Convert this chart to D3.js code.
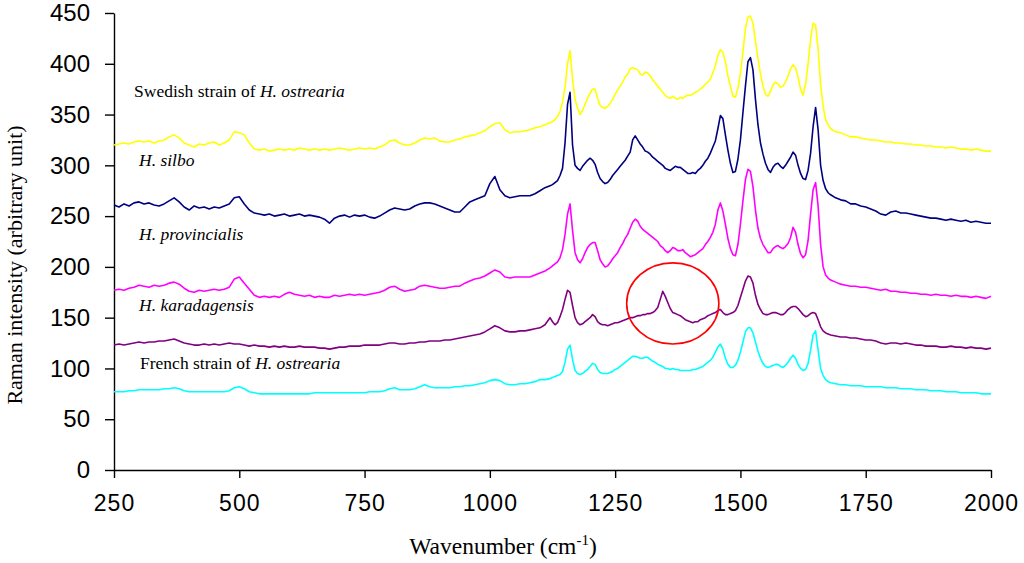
<!DOCTYPE html>
<meta charset="utf-8">
<script src="https://d3js.org/d3.v7.min.js"></script>
<style>
  body { margin: 0; background: #fff; }
  .axis text { font-family: "Liberation Sans", Arial, sans-serif; fill: #000; }
  .axis path, .axis line { stroke: #000; stroke-width: 1.4; }
  .serif { font-family: "Liberation Serif", "Times New Roman", serif; fill: #000; }
</style>
<body>
<div id="my_dataviz"></div>
<script>
// wavenumber grid (cm-1): 10 steps on the flat ends, 5 steps through the band region
var wavenumber = [
  250,260,270,280,290,300,310,320,330,340,
  350,360,370,380,390,400,410,420,430,440,
  450,460,470,480,490,500,510,520,530,540,
  550,560,570,580,590,600,610,620,630,640,
  650,660,670,680,690,700,710,720,730,740,
  750,760,770,780,790,800,810,820,830,840,
  850,860,870,880,890,900,910,920,930,940,
  950,960,970,980,990,1000,1010,1020,1030,1040,
  1050,1060,1070,1080,1090,1100,1110,1120,
  1125,1130,1135,1140,1145,1150,1155,1160,1165,1170,
  1175,1180,1185,1190,1195,1200,1205,1210,1215,1220,
  1225,1230,1235,1240,1245,1250,1255,1260,1265,1270,
  1275,1280,1285,1290,1295,1300,1305,1310,1315,1320,
  1325,1330,1335,1340,1345,1350,1355,1360,1365,1370,
  1375,1380,1385,1390,1395,1400,1405,1410,1415,1420,
  1425,1430,1435,1440,1445,1450,1455,1460,1465,1470,
  1475,1480,1485,1490,1495,1500,1505,1510,1515,1520,
  1525,1530,1535,1540,1545,1550,1555,1560,1565,1570,
  1575,1580,1585,1590,1595,1600,1605,1610,1615,1620,
  1625,1630,1635,1640,1645,1650,1655,1660,1665,1670,
  1675,1680,
  1690,1700,1710,1720,1730,1740,1750,1760,1770,1780,
  1790,1800,1810,1820,1830,1840,1850,1860,1870,1880,
  1890,1900,1910,1920,1930,1940,1950,1960,1970,1980,
  1990,2000
];

var swedish = [
  320,321,322,321,323,324,323,324,322,324,
  325,328,330,327,322,320,318,321,320,322,
  323,320,322,325,333,332,330,322,316,315,
  316,314,315,316,315,316,315,317,316,315,
  316,315,316,315,316,317,316,315,316,317,
  316,317,316,318,320,324,325,322,320,320,
  322,325,327,326,327,324,323,323,325,326,
  328,329,330,332,334,338,341,342,335,332,
  333,333,334,335,337,338,340,342,
  343,345,348,353,362,377,400,413,385,365,
  356,350,354,360,366,371,375,375,366,359,
  357,356,358,361,365,370,374,378,382,387,
  390,395,396,395,394,390,389,392,391,388,
  384,381,378,375,372,369,367,366,368,366,
  365,367,366,368,369,369,370,372,373,375,
  377,380,382,385,391,398,408,414,411,402,
  388,378,368,367,376,390,412,435,446,447,
  440,422,405,390,378,370,368,373,379,382,
  380,377,378,382,388,395,399,396,387,375,
  369,380,400,424,440,438,415,380,358,345,
  340,336,
  333,332,330,328,328,327,326,325,325,324,
  323,323,322,322,321,321,320,320,319,319,
  318,318,317,318,317,316,316,315,316,315,
  314,314
];

var silbo = [
  261,259,262,260,263,264,262,263,261,260,
  262,265,268,264,259,256,260,258,259,257,
  259,258,260,262,268,269,262,256,253,252,
  251,252,250,251,252,250,251,252,250,251,
  250,249,247,243,248,250,251,249,251,250,
  251,249,248,250,253,256,258,257,256,257,
  260,262,263,263,262,260,258,256,254,254,
  259,264,266,268,270,282,289,276,270,268,
  269,270,270,270,272,275,278,280,
  281,283,285,290,297,322,360,372,320,300,
  297,295,299,302,305,307,305,301,293,287,
  284,282,283,286,290,293,296,299,302,305,
  309,313,325,329,325,321,318,314,313,311,
  308,306,304,302,300,297,296,295,297,299,
  298,298,296,294,292,292,293,292,295,297,
  300,304,307,312,318,324,336,349,346,330,
  315,302,293,294,306,325,352,378,402,406,
  394,365,340,322,311,302,296,293,298,301,
  302,299,297,300,304,308,313,310,300,292,
  287,286,295,312,338,357,335,300,285,277,
  273,271,
  268,266,265,262,262,260,259,257,255,252,
  251,254,255,253,253,252,251,250,249,248,
  248,247,246,247,246,245,246,244,245,244,
  243,243
];

var provincialis = [
  177,178,177,179,180,182,181,180,182,181,
  182,184,185,183,179,176,175,177,176,177,
  178,177,178,180,188,190,184,178,172,170,
  171,170,171,170,173,175,173,172,171,172,
  170,171,170,170,172,171,172,173,172,173,
  172,173,174,175,177,180,181,178,176,177,
  178,181,182,181,180,179,179,180,181,181,
  184,186,188,189,191,194,197,195,190,189,
  190,190,190,190,192,194,196,199,
  201,203,205,209,217,232,252,262,236,214,
  207,204,208,214,219,222,224,224,216,207,
  203,200,201,204,208,211,214,219,223,228,
  232,238,244,247,245,240,237,235,233,231,
  229,227,225,221,219,216,214,216,219,218,
  216,216,217,214,212,210,211,212,214,216,
  218,222,225,229,234,242,256,263,255,242,
  228,218,212,211,222,242,265,286,296,294,
  279,256,238,228,222,218,214,214,218,220,
  221,219,218,220,223,229,239,234,222,213,
  209,212,226,252,276,283,260,222,200,192,
  189,187,
  185,183,182,181,181,180,180,179,178,177,
  178,176,176,175,175,174,174,173,173,172,
  173,172,172,171,172,171,171,170,171,170,
  169,171
];

var karadagensis = [
  123,124,123,124,125,126,125,126,126,127,
  127,128,129,127,125,124,123,123,124,123,
  124,123,124,125,124,124,123,122,123,122,
  122,121,122,121,122,121,121,122,121,121,
  121,120,120,119,120,121,121,122,122,122,
  123,123,123,123,124,125,125,124,124,125,
  125,126,126,127,127,127,128,128,129,130,
  131,132,133,134,136,139,142,140,137,136,
  136,137,137,138,139,140,143,150,
  146,143,145,151,158,168,177,175,162,150,
  145,143,144,146,148,150,153,151,146,144,
  143,143,142,143,144,145,145,146,147,148,
  149,150,150,151,152,152,153,153,154,154,
  155,157,160,168,176,171,165,159,155,154,
  153,152,150,148,147,146,145,146,146,148,
  149,150,152,153,154,155,157,158,155,153,
  153,154,155,157,162,170,178,186,191,190,
  184,172,163,158,154,153,153,154,155,155,
  154,153,153,155,158,160,161,161,159,156,
  153,151,152,154,155,154,148,141,137,135,
  134,133,
  132,131,131,130,130,129,128,128,127,125,
  124,125,125,124,125,124,123,123,122,122,
  122,121,121,122,121,121,120,121,120,120,
  119,120
];

var french = [
  77,77,77,78,78,79,79,79,79,79,
  80,80,81,80,78,77,77,77,77,77,
  77,77,77,78,81,82,80,77,76,75,
  75,75,75,75,75,75,75,75,75,75,
  76,76,76,76,76,76,76,76,76,76,
  76,77,77,77,78,80,81,79,79,79,
  80,82,84,82,81,81,81,81,82,82,
  83,83,84,85,86,88,89,88,85,84,
  84,85,85,86,87,89,89,90,
  91,92,93,94,97,106,119,123,109,98,
  95,94,95,97,99,102,105,104,99,96,
  95,95,95,96,97,99,100,102,104,106,
  108,110,112,112,111,110,110,111,111,109,
  107,106,104,103,102,100,100,99,100,99,
  99,98,98,98,98,98,99,99,100,101,
  102,104,106,108,111,116,121,124,119,110,
  104,101,101,103,108,116,126,136,140,140,
  135,126,117,110,105,102,101,102,103,104,
  104,102,101,103,106,110,113,110,104,100,
  98,99,105,118,133,137,118,100,93,89,
  87,86,
  85,84,84,83,83,83,82,82,82,82,
  81,81,81,80,80,80,79,79,79,78,
  78,78,77,77,77,76,76,76,76,75,
  75,75
];

var xTicks = [250, 500, 750, 1000, 1250, 1500, 1750, 2000];
var yTicks = [0, 50, 100, 150, 200, 250, 300, 350, 400, 450];

// label text: [plain part, italic part], anchor in data units
var labelText = [
  ["Swedish strain of ", "H. ostrearia"],
  ["", "H. silbo"],
  ["", "H. provincialis"],
  ["", "H. karadagensis"],
  ["French strain of ", "H. ostrearia"]
];
var labelWave = [290, 300, 300, 300, 302];
var labelValue = [367, 299, 226, 157, 99];

// highlighted band (ellipse), data units
var circleCentre = [1365, 164];
var circleRadius = [92, 40];

var series = [swedish, silbo, provincialis, karadagensis, french];
var colours = ["#FFFF00", "#000080", "#FF00FF", "#800080", "#00FFFF"];

var margin = {top: 13, right: 33, bottom: 93, left: 114},
    width = 1024 - margin.left - margin.right,
    height = 563 - margin.top - margin.bottom;

var svg = d3.select("#my_dataviz")
  .append("svg")
    .attr("width", width + margin.left + margin.right)
    .attr("height", height + margin.top + margin.bottom)
  .append("g")
    .attr("transform", "translate(" + margin.left + "," + margin.top + ")");

var x = d3.scaleLinear().domain([250, 2000]).range([0, width]);
var y = d3.scaleLinear().domain([0, 450]).range([height, 0]);

// axes
svg.append("g")
    .attr("class", "axis")
    .attr("transform", "translate(0," + height + ")")
    .call(d3.axisBottom(x).tickValues(xTicks).tickFormat(d3.format("d"))
      .tickSize(8).tickSizeOuter(0).tickPadding(17))
    .selectAll("text")
    .style("font-size", "23px")
    .style("letter-spacing", "1px");

svg.append("g")
    .attr("class", "axis")
    .call(d3.axisLeft(y).tickValues(yTicks).tickSize(9).tickSizeOuter(0).tickPadding(15))
    .selectAll("text")
    .style("font-size", "24px");

// spectra
var line = d3.line()
    .x(function (d, i) { return x(wavenumber[i]); })
    .y(function (d) { return y(d); });

series.forEach(function (s, k) {
  svg.append("path")
      .datum(s)
      .attr("fill", "none")
      .attr("stroke", colours[k])
      .attr("stroke-width", 1.6)
      .attr("stroke-linejoin", "round")
      .attr("d", line);
});

// series labels
labelText.forEach(function (t, k) {
  var txt = svg.append("text")
      .attr("class", "serif")
      .attr("x", x(labelWave[k]))
      .attr("y", y(labelValue[k]))
      .style("font-size", "17.5px");
  if (t[0]) txt.append("tspan").text(t[0]);
  txt.append("tspan").style("font-style", "italic").text(t[1]);
});

// red ellipse around the band
svg.append("ellipse")
    .attr("cx", x(circleCentre[0]))
    .attr("cy", y(circleCentre[1]))
    .attr("rx", x(circleCentre[0] + circleRadius[0]) - x(circleCentre[0]))
    .attr("ry", y(circleCentre[1] - circleRadius[1]) - y(circleCentre[1]))
    .attr("fill", "none")
    .attr("stroke", "#FF0000")
    .attr("stroke-width", 1.6);

// axis titles
var xt = svg.append("text")
    .attr("class", "serif")
    .attr("text-anchor", "middle")
    .attr("x", 389)
    .attr("y", height + 84)
    .style("font-size", "23.5px");
xt.append("tspan").text("Wavenumber (cm");
xt.append("tspan").attr("dy", -9).style("font-size", "15px").text("-1");
xt.append("tspan").attr("dy", 9).text(")");

svg.append("text")
    .attr("class", "serif")
    .attr("text-anchor", "middle")
    .attr("transform", "rotate(-90)")
    .attr("x", -252)
    .attr("y", -92)
    .style("font-size", "22px")
    .text("Raman intensity (arbitrary unit)");
</script>
</body>
